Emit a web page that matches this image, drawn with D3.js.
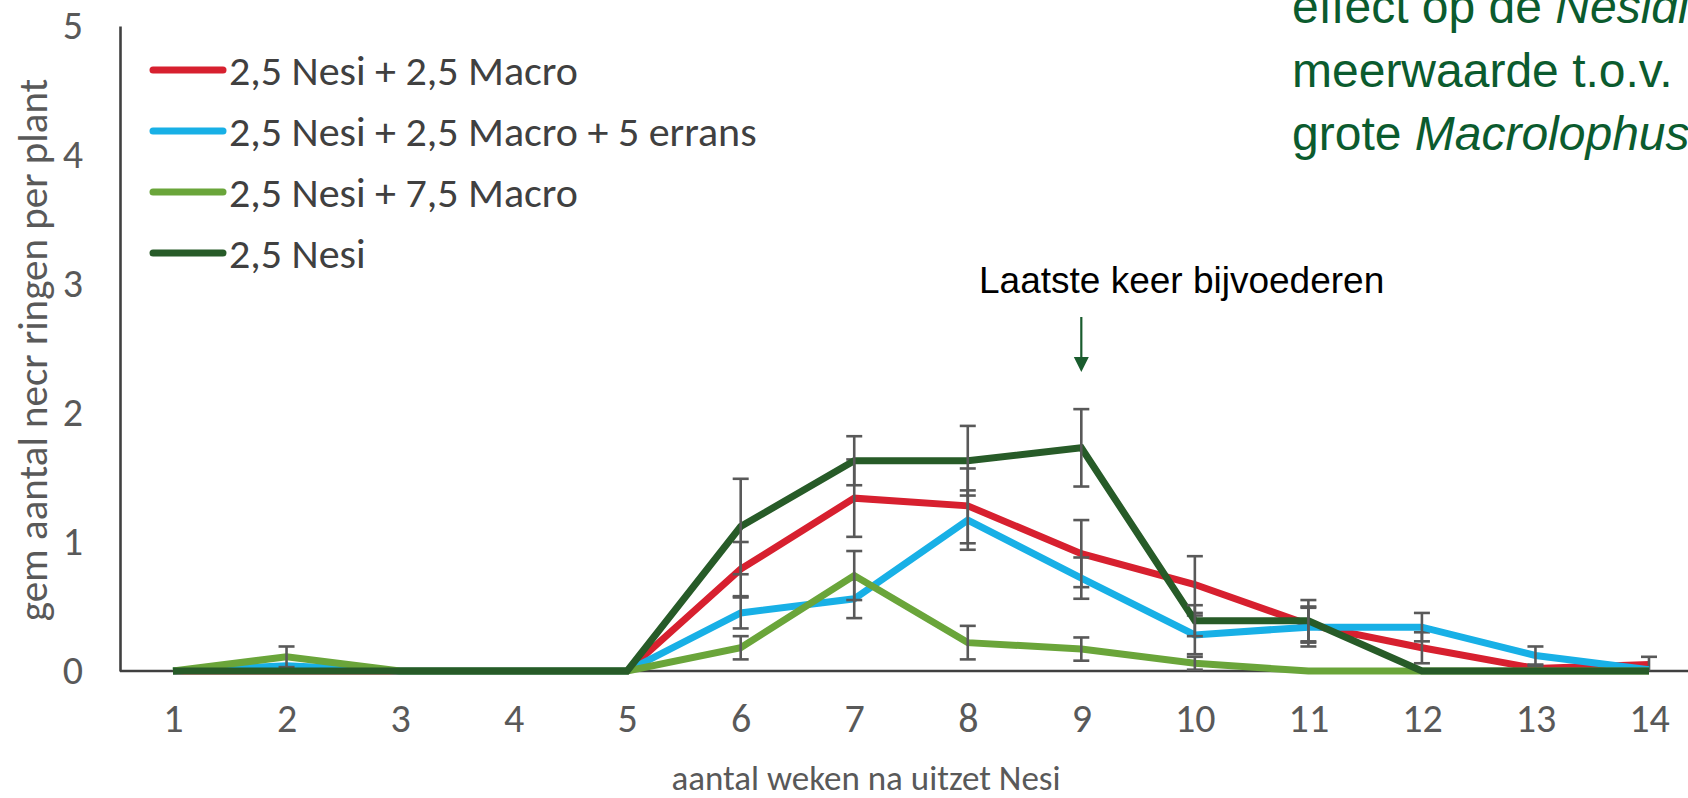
<!DOCTYPE html>
<html>
<head>
<meta charset="utf-8">
<script src="https://cdn.jsdelivr.net/npm/d3@7"></script>
<style>
  html, body { margin: 0; padding: 0; background: #ffffff; }
  svg { display: block; }
</style>
</head>
<body>
<svg id="chart" width="1688" height="798"></svg>
<script>
// Weeks after release of Nesidiocoris
const weeks = [1, 2, 3, 4, 5, 6, 7, 8, 9, 10, 11, 12, 13, 14];
const yTicks = [0, 1, 2, 3, 4, 5];

const seriesNames = [
  "2,5 Nesi + 2,5 Macro",
  "2,5 Nesi + 2,5 Macro + 5 errans",
  "2,5 Nesi + 7,5 Macro",
  "2,5 Nesi"
];
const seriesColors = ["#d7202f", "#18b0e6", "#6aa53a", "#275b28"];

// Mean number of necrotic rings per plant, and standard errors
const nesiMacro       = [0, 0,    0, 0, 0, 0.79, 1.34, 1.28, 0.91, 0.67, 0.36, 0.18, 0.02, 0.05];
const nesiMacroErr    = [0, 0,    0, 0, 0, 0.21, 0.30, 0.29, 0.26, 0.22, 0.14, 0.12, 0.02, 0.06];
const nesiMacroErr5   = [0, 0.04, 0, 0, 0, 0.45, 0.56, 1.17, 0.72, 0.28, 0.34, 0.34, 0.12, 0.01];
const nesiMacroErr5Se = [0, 0,    0, 0, 0, 0.12, 0.15, 0.23, 0.16, 0.15, 0.15, 0.11, 0.07, 0];
const nesiMacro75     = [0, 0.11, 0, 0, 0, 0.18, 0.74, 0.22, 0.17, 0.06, 0,    0,    0,    0];
const nesiMacro75Err  = [0, 0.08, 0, 0, 0, 0.09, 0.19, 0.13, 0.09, 0.05, 0,    0,    0,    0];
const nesiOnly        = [0, 0,    0, 0, 0, 1.12, 1.63, 1.63, 1.73, 0.39, 0.39, 0,    0,    0];
const nesiOnlyErr     = [0, 0,    0, 0, 0, 0.37, 0.19, 0.27, 0.30, 0.12, 0.16, 0,    0,    0];

const seriesValues = [nesiMacro, nesiMacroErr5, nesiMacro75, nesiOnly];
const seriesErrors = [nesiMacroErr, nesiMacroErr5Se, nesiMacro75Err, nesiOnlyErr];

const W = 1688, H = 798;
const svg = d3.select("#chart");

const plotLeft = 120;
const x = d3.scaleLinear().domain([1, 14]).range([173, 1649]);
const y = d3.scaleLinear().domain([0, 5]).range([671, 26]);

const tickFont = "Carlito, Lato, 'Open Sans', sans-serif";

// Y axis
const yAxis = svg.append("g")
  .attr("transform", `translate(${plotLeft},0)`)
  .call(d3.axisLeft(y).tickValues(yTicks).tickSize(0).tickPadding(37).tickFormat(d3.format("d")));
yAxis.select(".domain").attr("stroke", "#404040").attr("stroke-width", 2.6);
yAxis.selectAll("text")
  .attr("fill", "#595959")
  .style("font-family", tickFont)
  .style("font-size", "40px");

// X axis: tick labels from the scale, axis line across the full plot width
const xAxis = svg.append("g")
  .attr("transform", `translate(0,${y(0)})`)
  .call(d3.axisBottom(x).tickValues(weeks).tickSize(0).tickPadding(33).tickFormat(d3.format("d")));
xAxis.select(".domain").remove();
xAxis.selectAll("text")
  .attr("fill", "#595959")
  .style("font-family", tickFont)
  .style("font-size", "40px");
svg.append("line")
  .attr("x1", plotLeft).attr("x2", W)
  .attr("y1", y(0)).attr("y2", y(0))
  .attr("stroke", "#404040").attr("stroke-width", 2.6);

// Axis titles
svg.append("text")
  .attr("transform", `translate(47,350) rotate(-90)`)
  .attr("text-anchor", "middle")
  .attr("fill", "#595959")
  .style("font-family", tickFont)
  .style("font-size", "41px")
  .text("gem aantal necr ringen per plant");

svg.append("text")
  .attr("x", 866).attr("y", 790)
  .attr("text-anchor", "middle")
  .attr("fill", "#595959")
  .style("font-family", tickFont)
  .style("font-size", "35px")
  .text("aantal weken na uitzet Nesi");

// Series lines with error bars
const line = d3.line()
  .x((d, i) => x(weeks[i]))
  .y(d => y(d));

seriesValues.forEach((vals, s) => {
  const g = svg.append("g").attr("class", "series");
  g.append("path")
    .datum(vals)
    .attr("d", line)
    .attr("fill", "none")
    .attr("stroke", seriesColors[s])
    .attr("stroke-width", 7)
    .attr("stroke-linejoin", "miter")
    .attr("stroke-linecap", "butt");

  const errs = weeks.map((w, i) => ({ w, v: vals[i], e: seriesErrors[s][i] }))
    .filter(d => d.e > 0);
  const eb = g.selectAll(".err").data(errs).enter().append("g")
    .attr("stroke", "#595959").attr("stroke-width", 2.6);
  eb.append("line")
    .attr("x1", d => x(d.w)).attr("x2", d => x(d.w))
    .attr("y1", d => y(d.v + d.e)).attr("y2", d => y(Math.max(0, d.v - d.e)));
  eb.append("line")
    .attr("x1", d => x(d.w) - 8).attr("x2", d => x(d.w) + 8)
    .attr("y1", d => y(d.v + d.e)).attr("y2", d => y(d.v + d.e));
  eb.filter(d => d.v - d.e >= 0).append("line")
    .attr("x1", d => x(d.w) - 8).attr("x2", d => x(d.w) + 8)
    .attr("y1", d => y(d.v - d.e)).attr("y2", d => y(d.v - d.e));
});

// Legend
const legend = svg.append("g");
seriesNames.forEach((name, i) => {
  const cy = 70 + i * 61;
  legend.append("line")
    .attr("x1", 153).attr("x2", 223)
    .attr("y1", cy).attr("y2", cy)
    .attr("stroke", seriesColors[i])
    .attr("stroke-width", 7)
    .attr("stroke-linecap", "round");
  legend.append("text")
    .attr("x", 229).attr("y", cy)
    .attr("dy", "0.35em")
    .attr("fill", "#404040")
    .style("font-family", tickFont)
    .style("font-size", "42px")
    .text(name);
});

// Annotation: last supplementary feeding
const feedWeek = 9;
svg.append("text")
  .attr("x", 979).attr("y", 293)
  .attr("fill", "#000000")
  .style("font-family", "'Liberation Sans', Arial, sans-serif")
  .style("font-size", "37px")
  .text("Laatste keer bijvoederen");
svg.append("line")
  .attr("x1", x(feedWeek)).attr("x2", x(feedWeek))
  .attr("y1", 317).attr("y2", 360)
  .attr("stroke", "#1a5c2e").attr("stroke-width", 2.2);
svg.append("path")
  .attr("d", d3.line()([[x(feedWeek) - 7.5, 357], [x(feedWeek) + 7.5, 357], [x(feedWeek), 372]]))
  .attr("fill", "#1a5c2e");

// Conclusion text, top right
const note = svg.append("text")
  .attr("fill", "#0b5b2e")
  .style("font-family", "'Liberation Sans', Arial, sans-serif")
  .style("font-size", "48px");
const l1 = note.append("tspan").attr("x", 1292).attr("y", 23);
l1.append("tspan").text("effect op de ");
l1.append("tspan").style("font-style", "italic").text("Nesidiocoris");
note.append("tspan").attr("x", 1292).attr("y", 87).text("meerwaarde t.o.v.");
const l3 = note.append("tspan").attr("x", 1292).attr("y", 150);
l3.append("tspan").text("grote ");
l3.append("tspan").style("font-style", "italic").text("Macrolophus");
</script>
</body>
</html>
